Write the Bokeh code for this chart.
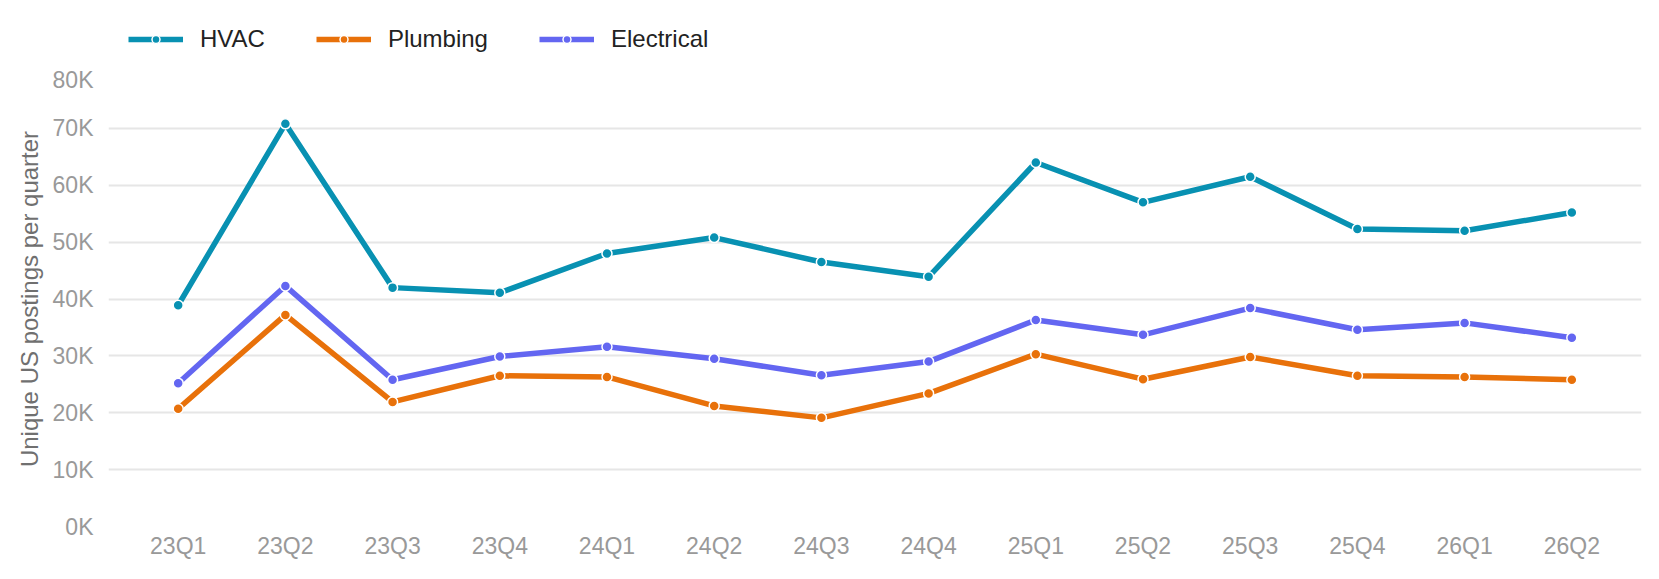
from bokeh.plotting import figure
from bokeh.layouts import column
from bokeh.models import (FactorRange, Range1d, FixedTicker, Legend, LegendItem,
                          ColumnDataSource)
from bokeh.embed import file_html
from bokeh.resources import INLINE

# Quarterly unique US job postings by trade
quarters = ["23Q1", "23Q2", "23Q3", "23Q4", "24Q1", "24Q2", "24Q3", "24Q4",
            "25Q1", "25Q2", "25Q3", "25Q4", "26Q1", "26Q2"]
hvac = [38900, 70800, 42000, 41100, 48000, 50800, 46500, 43900,
        64000, 57000, 61500, 52300, 52000, 55200]
plumbing = [20700, 37200, 21900, 26500, 26300, 21200, 19100, 23400,
            30300, 25900, 29800, 26500, 26300, 25800]
electrical = [25200, 42300, 25800, 29900, 31600, 29500, 26600, 29000,
              36300, 33700, 38400, 34600, 35800, 33200]

series_names = ["HVAC", "Plumbing", "Electrical"]
series_colors = ["#0891b2", "#e8710a", "#6366f1"]

y_ticks = [0, 10000, 20000, 30000, 40000, 50000, 60000, 70000, 80000]
y_tick_labels = ["0K", "10K", "20K", "30K", "40K", "50K", "60K", "70K", "80K"]

FONT = "Liberation Sans"
LINE_W = 5.5
DOT = 10

# ---- main chart ----
p = figure(
    width=1659, height=513,
    x_range=FactorRange(factors=quarters, range_padding=0.15,
                        range_padding_units="absolute"),
    y_range=Range1d(0, 80000),
    output_backend="svg", toolbar_location=None,
    min_border_left=108, min_border_right=18,
    min_border_top=5, min_border_bottom=53,
)
p.outline_line_color = None
p.background_fill_color = "white"
p.border_fill_color = "white"

p.xgrid.grid_line_color = None
p.ygrid.grid_line_color = "#e6e6e6"
p.ygrid.grid_line_width = 2
p.ygrid.ticker = FixedTicker(ticks=y_ticks)

p.yaxis.ticker = FixedTicker(ticks=y_ticks)
p.yaxis.major_label_overrides = dict(zip(y_ticks, y_tick_labels))
p.yaxis.axis_line_color = None
p.yaxis.major_tick_line_color = None
p.yaxis.minor_tick_line_color = None
p.yaxis.major_label_standoff = 9
p.yaxis.major_label_text_font = FONT
p.yaxis.major_label_text_font_size = "23px"
p.yaxis.major_label_text_color = "#999999"
p.yaxis.axis_label = "Unique US postings per quarter"
p.yaxis.axis_label_text_font = FONT
p.yaxis.axis_label_text_font_size = "24px"
p.yaxis.axis_label_text_font_style = "normal"
p.yaxis.axis_label_text_color = "#707070"
p.yaxis.axis_label_standoff = 7

p.xaxis.axis_line_color = None
p.xaxis.major_tick_line_color = None
p.xaxis.minor_tick_line_color = None
p.xaxis.major_label_standoff = 0
p.xaxis.major_label_text_font = FONT
p.xaxis.major_label_text_font_size = "23px"
p.xaxis.major_label_text_color = "#999999"

for vals, color in zip([hvac, plumbing, electrical], series_colors):
    src = ColumnDataSource(data=dict(q=quarters, v=vals))
    p.line("q", "v", source=src, line_color=color, line_width=LINE_W,
           line_join="round")
    p.scatter("q", "v", source=src, size=DOT, fill_color=color,
              line_color="white", line_width=1.5)

# ---- legend strip above the chart ----
lg = figure(
    width=1659, height=66, x_range=Range1d(0, 1), y_range=Range1d(0, 1),
    output_backend="svg", toolbar_location=None,
    min_border_left=0, min_border_right=0, min_border_top=0, min_border_bottom=0,
)
lg.axis.visible = False
lg.grid.visible = False
lg.outline_line_color = None
lg.background_fill_color = "white"
lg.border_fill_color = "white"

# legend keys: one off-range point each, so only their legend swatches show
items = []
for name, color in zip(series_names, series_colors):
    ln = lg.line(x=[-5, -4], y=[-5, -5], line_color=color, line_width=LINE_W)
    mk = lg.scatter(x=[-5], y=[-5], fill_color=color, line_color="white",
                    line_width=1.5)
    items.append(LegendItem(label=name, renderers=[ln, mk]))

legend = Legend(
    items=items, orientation="horizontal",
    location=(20, 66 - 39 - 14),
    glyph_width=55, glyph_height=20, label_height=20,
    label_standoff=17, spacing=51,
    padding=0, margin=0,
    border_line_color=None, background_fill_alpha=0,
    label_text_font=FONT, label_text_font_size="24px",
    label_text_color="#222222",
)
lg.add_layout(legend, "center")

layout = column(lg, p, spacing=0)
open("out.html", "w").write(file_html(layout, INLINE))
